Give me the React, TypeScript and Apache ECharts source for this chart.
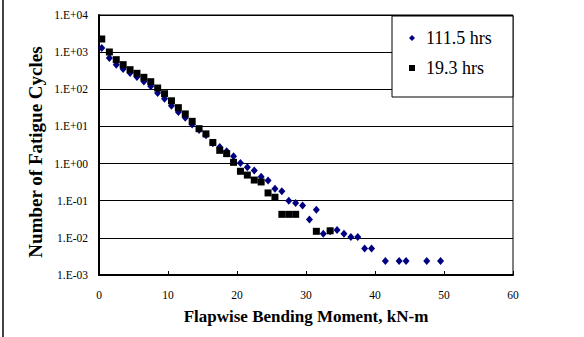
import { useEffect, useRef } from 'react';
import * as echarts from 'echarts';

// 111.5 hrs (diamonds)
const momentA = [0.4, 1.5, 2.5, 3.5, 4.5, 5.5, 6.5, 7.5, 8.5, 9.5, 10.5, 11.5, 12.5, 13.5, 14.5, 15.5, 16.5, 17.5, 18.5, 19.5, 20.5, 21.5, 22.5, 23.5, 24.5, 25.5, 26.5, 27.5, 28.5, 29.5, 30.5, 31.5, 32.5, 33.5, 34.5, 35.5, 36.5, 37.5, 38.5, 39.5, 41.5, 43.5, 44.5, 47.5, 49.5];
const cyclesA = [1300, 700, 460, 350, 275, 215, 163, 120, 79, 56, 36, 24.5, 17, 11.2, 8, 5.8, 3.5, 2.8, 2.14, 1.57, 1.04, 0.79, 0.65, 0.44, 0.35, 0.21, 0.18, 0.1, 0.087, 0.074, 0.031, 0.057, 0.013, 0.015, 0.0163, 0.013, 0.0106, 0.0106, 0.0052, 0.0052, 0.0024, 0.0024, 0.0024, 0.0024, 0.0024];

// 19.3 hrs (squares)
const momentB = [0.4, 1.5, 2.5, 3.5, 4.5, 5.5, 6.5, 7.5, 8.5, 9.5, 10.5, 11.5, 12.5, 13.5, 14.5, 15.5, 16.5, 17.5, 18.5, 19.5, 20.5, 21.5, 22.5, 23.5, 24.5, 25.5, 26.5, 27.5, 28.5, 31.5, 33.5];
const cyclesB = [2260, 1010, 627, 460, 337, 269, 210, 160, 108, 76, 49, 32, 21.7, 13.7, 8.7, 6.3, 3.7, 2.27, 1.85, 1.08, 0.62, 0.49, 0.36, 0.32, 0.162, 0.124, 0.043, 0.043, 0.043, 0.015, 0.0155];

const seriesNames = ['111.5 hrs', '19.3 hrs'];
const xTitle = 'Flapwise Bending Moment, kN-m';
const yTitle = 'Number of Fatigue Cycles';

const FONT = '"Liberation Serif", "Times New Roman", serif';

export default function App() {
  const ref = useRef<HTMLDivElement>(null);
  useEffect(() => {
    document.body.style.margin = '0';
    const chart = echarts.init(ref.current!, null, { renderer: 'svg' });
    const fmt = (v: number) => {
      const e = Math.round(Math.log10(v));
      return '1.E' + (e < 0 ? '-' : '+') + String(Math.abs(e)).padStart(2, '0');
    };
    chart.setOption({
      animation: false,
      backgroundColor: '#fff',
      grid: { left: 99, top: 15, width: 414, height: 260, show: true, borderColor: '#000', borderWidth: 1, backgroundColor: 'transparent' },
      xAxis: {
        type: 'value', min: 0, max: 60, interval: 10,
        name: xTitle, nameLocation: 'middle', nameGap: 33,
        nameTextStyle: { fontFamily: FONT, fontWeight: 'bold', fontSize: 17, color: '#000' },
        axisLine: { show: true, lineStyle: { color: '#000', width: 2 } },
        axisTick: { show: true, inside: true, length: 4, lineStyle: { color: '#000' } },
        axisLabel: { fontFamily: FONT, fontSize: 11.5, color: '#000', margin: 14 },
        splitLine: { show: false },
      },
      yAxis: {
        type: 'log', logBase: 10, min: 0.001, max: 10000,
        axisLine: { show: true, lineStyle: { color: '#000', width: 2 } },
        axisTick: { show: false },
        axisLabel: { fontFamily: FONT, fontSize: 11.5, color: '#000', margin: 11, formatter: fmt },
        splitLine: { show: true, lineStyle: { color: '#000', width: 1 } },
        minorTick: { show: false },
      },
      legend: {
        orient: 'vertical', left: 392, top: 16, z: 10,
        padding: [13, 10, 10, 17], itemGap: 12, itemWidth: 6, itemHeight: 6,
        textStyle: { fontFamily: FONT, fontSize: 18, color: '#000', padding: [0, 0, 0, 6] },
        data: [
          { name: seriesNames[0], icon: 'diamond' },
          { name: seriesNames[1], icon: 'rect' },
        ],
      },
      graphic: {
        elements: [
          { type: 'rect', z: 5, shape: { x: 392, y: 16, width: 121, height: 81 }, style: { fill: '#fff', stroke: '#000', lineWidth: 1 } },
          { type: 'line', z: 5, shape: { x1: 3, y1: 0, x2: 3, y2: 337 }, style: { stroke: '#444', lineWidth: 2 } },
          {
            type: 'text', z: 5, x: 35, y: 152, rotation: Math.PI / 2,
            style: { text: yTitle, font: 'bold 19px ' + FONT, fill: '#000', textAlign: 'center', textVerticalAlign: 'middle' },
          },
        ],
      },
      series: [
        {
          name: seriesNames[0], type: 'scatter', symbol: 'diamond', symbolSize: [7, 8],
          itemStyle: { color: '#000080', opacity: 1 },
          data: momentA.map((x, i) => [x, cyclesA[i]]),
        },
        {
          name: seriesNames[1], type: 'scatter', symbol: 'rect', symbolSize: 7,
          itemStyle: { color: '#000', opacity: 1 },
          data: momentB.map((x, i) => [x, cyclesB[i]]),
        },
      ],
    });
    return () => chart.dispose();
  }, []);
  return <div ref={ref} style={{ width: 584, height: 337 }} />;
}
